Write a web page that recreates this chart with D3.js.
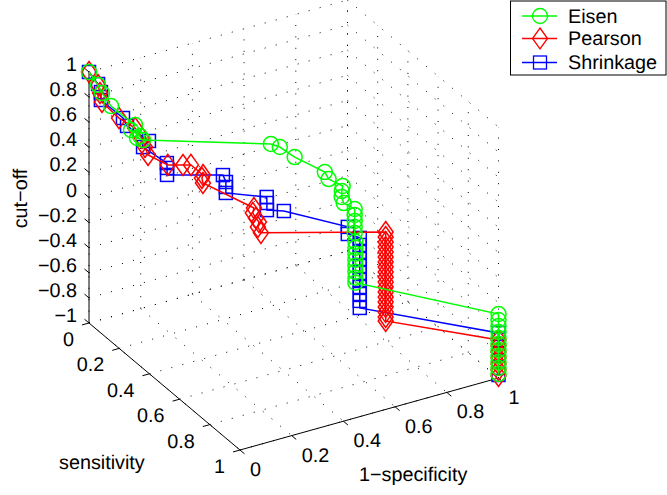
<!DOCTYPE html>
<html>
<head>
<meta charset="utf-8">
<script src="https://d3js.org/d3.v7.min.js"></script>
<style>
body { margin: 0; background: #fff; }
text { font-family: "Liberation Sans", Arial, sans-serif; font-size: 19.8px; fill: #000; text-rendering: geometricPrecision; }
</style>
</head>
<body>
<div id="vis"></div>
<script>
const WIDTH = 667;
const HEIGHT = 495;

// ejes
const xTicks = [0, 0.2, 0.4, 0.6, 0.8, 1];
const yTicks = [0, 0.2, 0.4, 0.6, 0.8, 1];
const zTicks = [-1, -0.8, -0.6, -0.4, -0.2, 0, 0.2, 0.4, 0.6, 0.8, 1];

// valores: x = 1-specificity, y = sensitivity, z = cut-off
const eisenX = [0, 0, 0, 0, 0, 0, 0, 0, 0, 0.353, 0.376, 0.41, 0.48, 0.483, 0.514, 0.499, 0.487, 0.483, 0.502,
    0.502, 0.502, 0.502, 0.502, 0.505, 0.505, 0.505, 0.505, 0.505, 0.505, 0.505, 0.505,
    1, 1, 1, 1, 1, 1, 1, 1, 1, 1, 1];
const eisenY = [0, 0.06, 0.086, 0.146, 0.305, 0.278, 0.338, 0.318, 0.358, 0.6, 0.62, 0.66, 0.74, 0.76, 0.8, 0.82, 0.84, 0.86, 0.9,
    0.9, 0.9, 0.9, 0.9, 0.9, 0.9, 0.9, 0.9, 0.9, 0.9, 0.9, 0.9,
    1, 1, 1, 1, 1, 1, 1, 1, 1, 1, 1];
const eisenZ = [1, 0.957, 0.92, 0.876, 0.886, 0.819, 0.832, 0.796, 0.82, 0.831, 0.814, 0.755, 0.676, 0.639, 0.606, 0.595, 0.575, 0.549, 0.531,
    0.484, 0.436, 0.388, 0.34, 0.268, 0.221, 0.173, 0.125, 0.077, 0.029, -0.018, -0.058,
    -0.49, -0.538, -0.586, -0.633, -0.681, -0.729, -0.777, -0.825, -0.873, -0.92, -0.968];

const pearsonX = [0, 0, 0, 0, 0, 0, 0, 0, 0, 0.042, 0.089, 0.114, 0.149, 0.139, 0.137, 0.229, 0.219, 0.225, 0.231, 0.221, 0.227,
    0.622, 0.622, 0.622, 0.622, 0.622, 0.622, 0.622, 0.622, 0.622, 0.622, 0.622, 0.622, 0.622, 0.622, 0.622, 0.622, 0.622, 0.622, 0.622,
    1, 1, 1, 1, 1, 1, 1];
const pearsonY = [0, 0.06, 0.073, 0.086, 0.199, 0.305, 0.351, 0.371, 0.391, 0.45, 0.47, 0.48, 0.5, 0.51, 0.52, 0.7, 0.71, 0.72, 0.73, 0.74, 0.75,
    0.9, 0.9, 0.9, 0.9, 0.9, 0.9, 0.9, 0.9, 0.9, 0.9, 0.9, 0.9, 0.9, 0.9, 0.9, 0.9, 0.9, 0.9, 0.9,
    1, 1, 1, 1, 1, 1, 1];
const pearsonZ = [1, 0.957, 0.907, 0.848, 0.834, 0.862, 0.829, 0.778, 0.734, 0.691, 0.684, 0.68, 0.6, 0.592, 0.563, 0.493, 0.469, 0.436, 0.411, 0.387, 0.347,
    0.279, 0.239, 0.199, 0.159, 0.12, 0.08, 0.04, 0, -0.04, -0.08, -0.12, -0.159, -0.199, -0.239, -0.279, -0.319, -0.359, -0.398, -0.43,
    -0.697, -0.745, -0.793, -0.841, -0.888, -0.936, -0.984];

const shrinkageX = [0, 0, 0, 0, 0, 0, 0, 0, 0.05, 0.045, 0.039, 0.226, 0.226, 0.22, 0.214, 0.337, 0.332, 0.326, 0.38, 0.534, 0.528,
    0.551, 0.551, 0.551, 0.551, 0.551, 0.551, 0.551, 0.551, 0.551, 0.551, 0.551,
    1, 1, 1, 1, 1, 1, 1];
const shrinkageY = [0, 0.06, 0.079, 0.079, 0.225, 0.252, 0.397, 0.358, 0.43, 0.44, 0.45, 0.5, 0.52, 0.53, 0.54, 0.6, 0.61, 0.62, 0.64, 0.8, 0.81,
    0.85, 0.85, 0.85, 0.85, 0.85, 0.85, 0.85, 0.85, 0.85, 0.85, 0.85,
    1, 1, 1, 1, 1, 1, 1];
const shrinkageZ = [1, 0.965, 0.92, 0.857, 0.861, 0.825, 0.852, 0.764, 0.681, 0.655, 0.613, 0.555, 0.52, 0.494, 0.46, 0.418, 0.383, 0.34, 0.322, 0.269, 0.226,
    0.222, 0.166, 0.11, 0.054, -0.002, -0.057, -0.113, -0.169, -0.225, -0.28, -0.336,
    -0.641, -0.697, -0.753, -0.809, -0.865, -0.92, -0.976];

const SVG = d3.select("#vis").append("svg").attr("width", WIDTH).attr("height", HEIGHT);

// Proyeccion ortografica: cada eje aporta su parte en pantalla
const ORIGIN = { x: 89, y: 323 };
const xToH = d3.scaleLinear().domain([0, 1]).range([0, 258.5]);
const xToV = d3.scaleLinear().domain([0, 1]).range([0, -72]);
const yToH = d3.scaleLinear().domain([0, 1]).range([0, 151]);
const yToV = d3.scaleLinear().domain([0, 1]).range([0, 127]);
const zToV = d3.scaleLinear().domain([-1, 1]).range([0, -251]);

function project(x, y, z) {
    return [ORIGIN.x + xToH(x) + yToH(y), ORIGIN.y + xToV(x) + yToV(y) + zToV(z)];
}

const line3d = d3.line();

function segment(g, a, b) {
    return g.append("path").attr("d", line3d([project(...a), project(...b)])).attr("fill", "none");
}

// Grilla punteada en las tres paredes
const grid = SVG.append("g").attr("stroke", "#000").attr("stroke-width", 1).attr("stroke-dasharray", "1 10.4");
xTicks.forEach(t => {
    segment(grid, [t, 0, -1], [t, 1, -1]);
    segment(grid, [t, 0, -1], [t, 0, 1]);
});
yTicks.forEach(t => {
    segment(grid, [0, t, -1], [1, t, -1]);
    segment(grid, [1, t, -1], [1, t, 1]);
});
zTicks.forEach(t => {
    segment(grid, [0, 0, t], [1, 0, t]);
    segment(grid, [1, 0, t], [1, 1, t]);
});

// Ejes y ticks
const axes = SVG.append("g").attr("stroke", "#000").attr("stroke-width", 1);
segment(axes, [0, 0, -1], [0, 0, 1]);
segment(axes, [0, 0, -1], [0, 1, -1]);
segment(axes, [0, 1, -1], [1, 1, -1]);
zTicks.forEach(t => segment(axes, [0, 0, t], [0, -0.03, t]));
yTicks.forEach(t => segment(axes, [0, t, -1], [-0.027, t, -1]));
xTicks.forEach(t => segment(axes, [t, 1, -1], [t, 1.03, -1]));

const fmt = t => String(t).replace("-", "\u2212");

function tickLabel(p, dx, dy, anchor, t) {
    SVG.append("text").attr("x", p[0] + dx).attr("y", p[1] + dy)
        .attr("text-anchor", anchor).attr("dominant-baseline", "central").text(fmt(t));
}
zTicks.forEach(t => tickLabel(project(0, 0, t), -12, -7, "end", t));
yTicks.forEach(t => tickLabel(project(0, t, -1), -15, 17, "end", t));
xTicks.forEach(t => tickLabel(project(t, 1, -1), 10, 20, "start", t));

SVG.append("text").attr("x", 59).attr("y", 469).text("sensitivity");
SVG.append("text").attr("x", 359).attr("y", 481).text("1\u2212specificity");
SVG.append("text").attr("transform", "translate(27, 198.5) rotate(-90)").attr("text-anchor", "middle").text("cut\u2212off");

// Marcadores
const markers = {
    circle: (g) => g.append("circle").attr("r", 7.5),
    diamond: (g) => g.append("path").attr("d", d3.line()([[0, -10.5], [7.5, 0], [0, 10.5], [-7.5, 0]]) + "Z"),
    square: (g) => g.append("rect").attr("x", -6.5).attr("y", -6.5).attr("width", 13).attr("height", 13),
};

const series = [
    { name: "Eisen", color: "#00ff00", marker: "circle", xs: eisenX, ys: eisenY, zs: eisenZ, legendY: 16 },
    { name: "Pearson", color: "#ff0000", marker: "diamond", xs: pearsonX, ys: pearsonY, zs: pearsonZ, legendY: 38.5 },
    { name: "Shrinkage", color: "#0000ff", marker: "square", xs: shrinkageX, ys: shrinkageY, zs: shrinkageZ, legendY: 62.5 },
];

// El azul queda abajo y el verde arriba, como en la figura
series.slice().reverse().forEach(s => {
    const pts = s.xs.map((x, i) => project(x, s.ys[i], s.zs[i]));
    const g = SVG.append("g").attr("stroke", s.color).attr("stroke-width", 1.5).attr("fill", "none");
    g.append("path").attr("d", line3d(pts));
    pts.forEach(p => {
        const m = g.append("g").attr("transform", `translate(${p[0]}, ${p[1]})`);
        markers[s.marker](m);
    });
});

// Leyenda
SVG.append("rect").attr("x", 510.5).attr("y", 1).attr("width", 155.5).attr("height", 74)
    .attr("fill", "#fff").attr("stroke", "#000");
series.forEach(s => {
    const g = SVG.append("g").attr("stroke", s.color).attr("stroke-width", 1.3).attr("fill", "none");
    g.append("path").attr("d", line3d([[522, s.legendY], [557, s.legendY]]));
    markers[s.marker](g.append("g").attr("transform", `translate(540, ${s.legendY})`));
    SVG.append("text").attr("x", 568).attr("y", s.legendY + 6.5).text(s.name);
});
</script>
</body>
</html>
